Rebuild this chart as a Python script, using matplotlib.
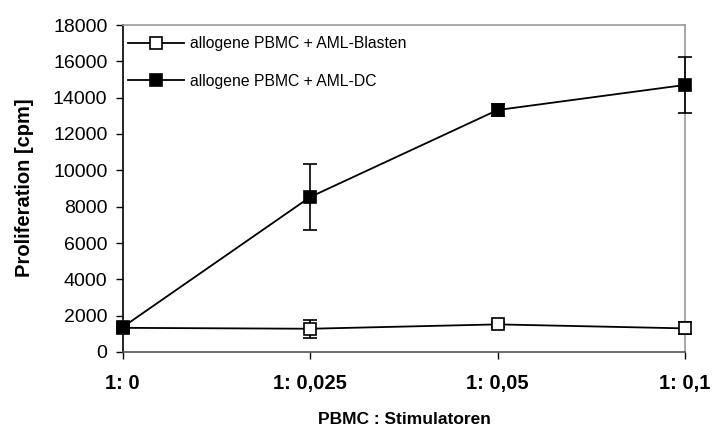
import matplotlib
matplotlib.use("Agg")
import matplotlib.pyplot as plt
from matplotlib.lines import Line2D

categories = ["1: 0", "1: 0,025", "1: 0,05", "1: 0,1"]
blasten = [1330, 1280, 1520, 1300]
blasten_err = [0, 490, 120, 330]
dc = [1370, 8530, 13320, 14700]
dc_err = [0, 1810, 320, 1530]
series_labels = ["allogene PBMC + AML-Blasten", "allogene PBMC + AML-DC"]

plt.rcParams['font.family'] = ['Liberation Sans', 'DejaVu Sans']

W, H = 716, 430
fig = plt.figure(figsize=(W/100, H/100), dpi=100)
ax = fig.add_axes([122.7/W, 1-352/H, (685-122.7)/W, (352-25)/H])

x = list(range(len(categories)))
ax.errorbar(x, blasten, yerr=blasten_err, color='black', lw=1.3, marker='s', ms=8,
            mfc='white', mec='black', mew=1.2, capsize=5, elinewidth=1.2, capthick=1.2,
            clip_on=False, zorder=3)
ax.errorbar(x, dc, yerr=dc_err, color='black', lw=1.3, marker='s', ms=8,
            mfc='black', mec='black', mew=1.2, capsize=5, elinewidth=1.2, capthick=1.2,
            clip_on=False, zorder=4)

ax.set_xlim(0, 3)
ax.set_ylim(0, 18000)
ax.set_yticks(range(0, 18001, 2000))
ax.set_xticks(x)
ax.set_xticklabels(categories, fontweight='bold', fontsize=14.5)
ax.tick_params(axis='y', labelsize=14, direction='out', length=5, width=1, pad=6)
ax.tick_params(axis='x', direction='out', length=5, width=1, pad=11)

ax.spines['left'].set_color('black')
ax.spines['bottom'].set_color('#555555')
ax.spines['top'].set_color('#999999')
ax.spines['right'].set_color('#999999')
for s in ax.spines.values():
    s.set_linewidth(1.2)

fig.text(25/W, 1-188/H, 'Proliferation [cpm]', rotation=90, ha='center', va='center',
         fontweight='bold', fontsize=14.5)
fig.text(404/W, 1-420/H, 'PBMC : Stimulatoren', ha='center', va='center',
         fontweight='bold', fontsize=12.5)

handles = [
    Line2D([], [], color='black', lw=1.3, marker='s', ms=8, mfc='white', mec='black', mew=1.2),
    Line2D([], [], color='black', lw=1.3, marker='s', ms=8, mfc='black', mec='black', mew=1.2),
]
leg = ax.legend(handles, series_labels, loc='upper left', frameon=False, fontsize=11.3,
                handlelength=3.6, handletextpad=0.35, borderaxespad=0.0, borderpad=0.0,
                labelspacing=1.45, bbox_to_anchor=(5/562.3, 1-11/327))

fig.savefig('out.png', dpi=100)
